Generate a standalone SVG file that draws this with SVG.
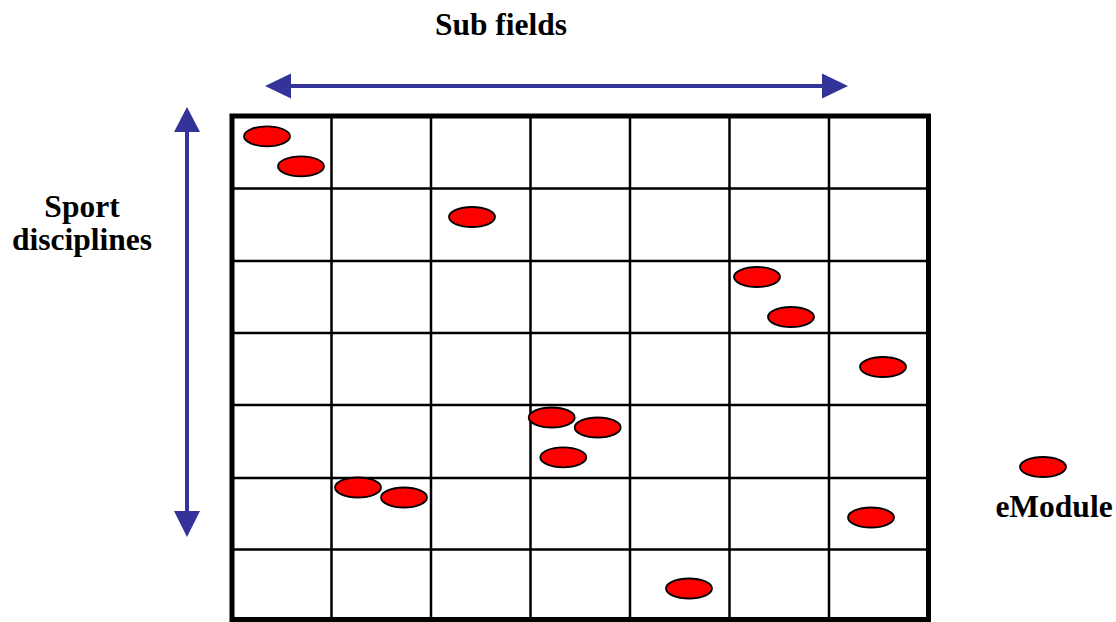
<svg xmlns="http://www.w3.org/2000/svg" width="1116" height="622" viewBox="0 0 1116 622">
  <defs>
    <style>
      .label { font-family: "Liberation Serif", "Times New Roman", serif; font-weight: bold; font-size: 31.5px; fill: #000; }
      .grid { stroke: #000; stroke-width: 2.5; fill: none; }
      .frame { stroke: #000; stroke-width: 5; fill: none; }
      .axis { stroke: #333399; stroke-width: 4; fill: none; }
      .head { fill: #333399; }
      .module { fill: #ff0000; stroke: #000; stroke-width: 1.8; }
    </style>
  </defs>

  <rect width="1116" height="622" fill="#fff"/>

  <!-- Axis labels -->
  <g id="label-subfields"><text class="label" x="501" y="34.5" text-anchor="middle">Sub fields</text></g>
  <g id="label-disciplines">
    <text class="label" x="82" y="216.5" text-anchor="middle">Sport</text>
    <text class="label" x="82" y="250" text-anchor="middle">disciplines</text>
  </g>

  <!-- Axis arrows -->
  <g id="connectors">
    <line class="axis" x1="288" y1="86" x2="824" y2="86"/>
    <polygon class="head" points="265,86 291,73.5 291,98.5"/>
    <polygon class="head" points="848,86 822,73.5 822,98.5"/>
    <line class="axis" x1="187" y1="130" x2="187" y2="513"/>
    <polygon class="head" points="187,107 174,132 200,132"/>
    <polygon class="head" points="187,537 174,511 200,511"/>
  </g>

  <!-- Matrix: 7 columns x 7 rows -->
  <g id="matrix">
    <path class="grid" d="M331.5,116V621 M431,116V621 M530.5,116V621 M630,116V621 M729.5,116V621 M829,116V621
                          M232,188.5H928.5 M232,261H928.5 M232,333H928.5 M232,405H928.5 M232,478H928.5 M232,549.5H928.5"/>
    <path class="frame" d="M232,116H928.5V619.5H232Z"/>
  </g>

  <!-- eModules -->
  <g id="modules">
    <ellipse class="module" cx="267" cy="136.3" rx="23" ry="10"/>
    <ellipse class="module" cx="301" cy="166.3" rx="23" ry="10"/>
    <ellipse class="module" cx="472" cy="217" rx="23" ry="10"/>
    <ellipse class="module" cx="757" cy="277" rx="23" ry="10"/>
    <ellipse class="module" cx="791" cy="317" rx="23" ry="10"/>
    <ellipse class="module" cx="883" cy="367" rx="23" ry="10"/>
    <ellipse class="module" cx="551.7" cy="417.5" rx="23" ry="10"/>
    <ellipse class="module" cx="597.7" cy="427.5" rx="23" ry="10"/>
    <ellipse class="module" cx="563.3" cy="457.3" rx="23" ry="10"/>
    <ellipse class="module" cx="358" cy="487.5" rx="23" ry="10"/>
    <ellipse class="module" cx="404" cy="497.5" rx="23" ry="10"/>
    <ellipse class="module" cx="871" cy="517.5" rx="23" ry="10"/>
    <ellipse class="module" cx="689" cy="588.5" rx="23" ry="10"/>
  </g>

  <!-- Legend -->
  <g id="legend">
    <ellipse class="module" cx="1043" cy="467" rx="23" ry="10"/>
    <text class="label" x="1054" y="517" text-anchor="middle">eModule</text>
  </g>
</svg>
